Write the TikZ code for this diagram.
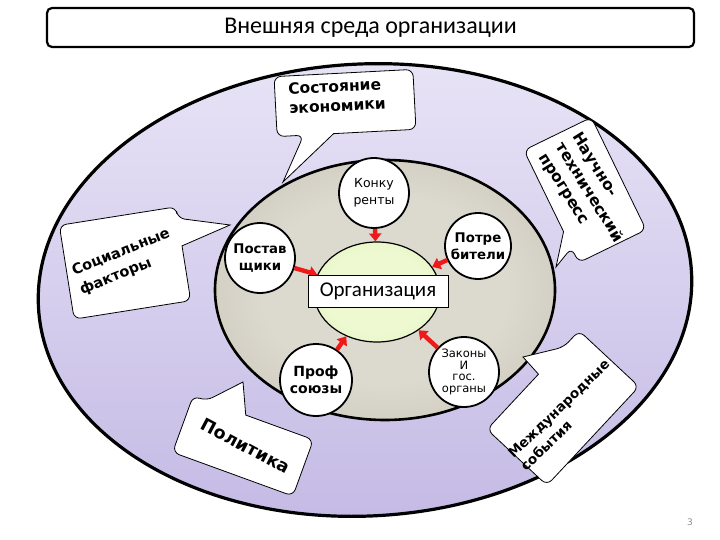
\documentclass[tikz,border=0pt]{standalone}
\usepackage{fontspec}
\setmainfont{DejaVu Sans}
\newfontfamily\carl{Carlito}
\usetikzlibrary{arrows.meta,shapes.geometric}
\definecolor{lavtop}{HTML}{E8E4F6}
\definecolor{lavbot}{HTML}{C4BAE5}
\definecolor{grayin}{HTML}{DCD9CF}
\definecolor{grayout}{HTML}{B6AF9D}
\definecolor{grin}{HTML}{EEF9D2}
\definecolor{grout}{HTML}{D2EEA0}
\definecolor{arrred}{HTML}{EE1A1A}
\pgfdeclareradialshading{grayshade}{\pgfpoint{0bp}{0bp}}{color(0bp)=(grayin); color(18bp)=(grayin); color(50bp)=(grayout)}
\pgfdeclareradialshading{greenshade}{\pgfpoint{0bp}{0bp}}{color(0bp)=(grin); color(20bp)=(grin); color(50bp)=(grout)}
\begin{document}
\begin{tikzpicture}[x=1pt,y=-1pt,
  callout/.style={draw=black,line width=0.8pt,fill=white},
  smallc/.style={circle,draw=black,line width=1.8pt,fill=white,inner sep=0pt,minimum size=70pt,align=center},
  redarr/.style={draw=arrred,line width=4.4pt,-{Triangle[length=8pt,width=12pt]}},
  ctext/.style={font=\bfseries\fontsize{15.5}{19.5}\selectfont,align=left,inner sep=0pt}]

\useasboundingbox (0,0) rectangle (720,540);

% title
\node[draw=black,line width=2.2pt,rounded corners=5pt,minimum width=647pt,minimum height=39pt,inner sep=0pt,font=\carl\fontsize{24}{27}\selectfont] (title) at (370.5,27.5) {Внешняя среда организации};

% outer ellipse
\shadedraw[top color=lavtop,bottom color=lavbot,draw=black,line width=3.2pt,rotate around={3:(365,290)}] (365,290) ellipse [x radius=327pt,y radius=226pt];

% inner ellipse
\shadedraw[shading=grayshade,draw=black,line width=2.6pt] (385,290) ellipse [x radius=170pt,y radius=130pt];

% callouts
\coordinate (tipA) at (283,182);
\coordinate (tipB) at (556,267);
\coordinate (tipC) at (230,225);
\coordinate (tipD) at (243,382);
\coordinate (tipE) at (523,357);

\begin{scope}[shift={(345,103)},rotate=3]
\draw[callout] (-13,30) [rounded corners=7pt] -- (69.5,30) -- (69.5,-30) -- (-69.5,-30) -- (-69.5,30) -- (-43,30) [sharp corners] -- (tipA) -- cycle;
\end{scope}
\begin{scope}[shift={(585,190)},rotate=-64]
\draw[callout] (28,37.5) [rounded corners=7pt] -- (-62.5,37.5) -- (-62.5,-37.5) -- (62.5,-37.5) -- (62.5,37.5) -- (46,37.5) [sharp corners] -- (tipB) -- cycle;
\end{scope}
\begin{scope}[shift={(125,263)},rotate=9]
\draw[callout] (59,-8) [rounded corners=7pt] -- (59,47.5) -- (-59,47.5) -- (-59,-47.5) -- (59,-47.5) -- (59,-36) [sharp corners] -- (tipC) -- cycle;
\end{scope}
\begin{scope}[shift={(243,446)},rotate=-20]
\draw[callout] (-8,-30) [rounded corners=7pt] -- (64,-30) -- (64,30) -- (-64,30) -- (-64,-30) -- (-50,-30) [sharp corners] -- (tipD) -- cycle;
\end{scope}
\begin{scope}[shift={(563,408)},rotate=47]
\draw[callout] (8,-41) [rounded corners=7pt] -- (-67.5,-41) -- (-67.5,41) -- (67.5,41) -- (67.5,-41) -- (45,-41) [sharp corners] -- (tipE) -- cycle;
\end{scope}

\node[ctext,rotate=3] (econ) at (337,96) {Состояние\\экономики};
\node[ctext,rotate=-58] (ntp) at (589,193) {Научно-\\технический\\прогресс};
\node[ctext,font=\bfseries\fontsize{14.5}{20.5}\selectfont,rotate=22] (soc) at (125,262) {Социальные\\факторы};
\node[ctext,font=\bfseries\fontsize{17.5}{21}\selectfont,rotate=-28] (pol) at (246,446) {Политика};
\node[ctext,font=\bfseries\fontsize{13.5}{18}\selectfont,rotate=44] (mezh) at (565,415) {Международные\\события};

% organisation
\node[ellipse,shading=greenshade,draw=black,line width=1.2pt,minimum width=126pt,minimum height=100pt,inner sep=0pt] (org) at (377,292) {};

% small circles
\node[smallc,font=\fontsize{12.5}{17}\selectfont] (konk) at (374,193) {Конку\\ренты};
\node[smallc,minimum size=66pt,font=\bfseries\fontsize{13.3}{17}\selectfont] (potr) at (478,246) {Потре\\бители};
\node[smallc,font=\bfseries\fontsize{13.3}{16.5}\selectfont] (post) at (260,258) {Постав\\щики};
\node[smallc,minimum size=72pt,font=\bfseries\fontsize{14}{17}\selectfont] (prof) at (316,380) {Проф\\союзы};
\node[smallc,font=\fontsize{11.5}{11.5}\selectfont] (zak) at (464,372) {Законы\\И\\гос.\\органы};

% arrows
\draw[redarr] (konk) -- (org);
\draw[redarr] (potr) -- (org);
\draw[redarr] (post) -- (org);
\draw[redarr] (prof) -- (org);
\draw[redarr] (zak) -- (org);

\node[draw=black,line width=0.7pt,fill=white,minimum width=140pt,minimum height=32pt,inner sep=0pt,font=\carl\fontsize{21}{24}\selectfont] (orglbl) at (378,291) {Организация};

\node[text=black!45,font=\fontsize{9}{10}\selectfont] (pnum) at (690,522) {3};
\end{tikzpicture}
\end{document}
